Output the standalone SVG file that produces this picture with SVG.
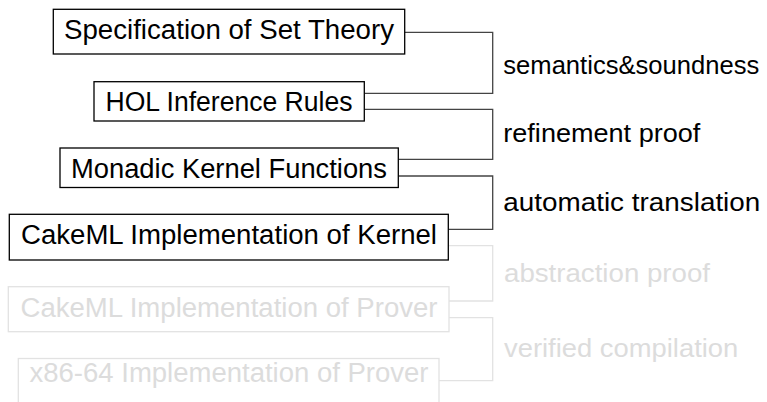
<svg xmlns="http://www.w3.org/2000/svg" width="767" height="402" viewBox="0 0 767 402">
  <style>
    .box { fill: #ffffff; stroke: #000000; stroke-width: 1.3; }
    .box.faded { stroke: #e2e2e2; }
    .lbl { font-family: "Liberation Sans", Arial, sans-serif; font-size: 27px; fill: #000000; }
    .lbl.faded { fill: #dcdcdc; }
    .step { font-size: 25.5px; }
    .wire { fill: none; stroke: #444444; stroke-width: 1.3; }
    .wire.faded { stroke: #e2e2e2; }
  </style>

  <!-- connectors between successive levels -->
  <g id="connectors">
    <path class="wire" d="M404.7,32.3 H492.7 V93.3 H364.3"/>
    <path class="wire" d="M364.3,109.3 H492.7 V159.3 H398.3"/>
    <path class="wire" d="M398.3,176 H492.7 V229.3 H448.3"/>
    <path class="wire faded" d="M448.3,245.7 H492.7 V301 H449"/>
    <path class="wire faded" d="M449,317.7 H492.7 V380.7 H439"/>
  </g>

  <g id="spec-set-theory">
    <rect class="box" x="53.3" y="9.3" width="351.4" height="44.7"/>
    <text class="lbl" x="229" y="39" text-anchor="middle" textLength="330" lengthAdjust="spacingAndGlyphs">Specification of Set Theory</text>
  </g>

  <g id="hol-inference-rules">
    <rect class="box" x="94" y="81.7" width="270.3" height="39.3"/>
    <text class="lbl" x="229" y="110.7" text-anchor="middle" textLength="247" lengthAdjust="spacingAndGlyphs">HOL Inference Rules</text>
  </g>

  <g id="monadic-kernel">
    <rect class="box" x="60" y="148" width="338.3" height="39.5"/>
    <text class="lbl" x="229" y="177.5" text-anchor="middle" textLength="316" lengthAdjust="spacingAndGlyphs">Monadic Kernel Functions</text>
  </g>

  <g id="cakeml-kernel">
    <rect class="box" x="9.3" y="214.3" width="439" height="45.7"/>
    <text class="lbl" x="229" y="244" text-anchor="middle" textLength="416" lengthAdjust="spacingAndGlyphs">CakeML Implementation of Kernel</text>
  </g>

  <g id="cakeml-prover">
    <rect class="box faded" x="8.3" y="286.7" width="440.7" height="45"/>
    <text class="lbl faded" x="229" y="316.5" text-anchor="middle" textLength="417" lengthAdjust="spacingAndGlyphs">CakeML Implementation of Prover</text>
  </g>

  <g id="x86-prover">
    <rect class="box faded" x="18.3" y="358.5" width="420.7" height="45.5"/>
    <text class="lbl faded" x="229" y="381.5" text-anchor="middle" textLength="399" lengthAdjust="spacingAndGlyphs">x86-64 Implementation of Prover</text>
  </g>

  <!-- step annotations -->
  <g id="step-labels">
    <text class="lbl step" x="503.3" y="74.3" textLength="256" lengthAdjust="spacingAndGlyphs">semantics&amp;soundness</text>
    <text class="lbl step" x="503.3" y="141.7" textLength="197" lengthAdjust="spacingAndGlyphs">refinement proof</text>
    <text class="lbl step" x="503.3" y="210.7" textLength="257" lengthAdjust="spacingAndGlyphs">automatic translation</text>
    <text class="lbl step faded" x="504" y="281.7" textLength="206" lengthAdjust="spacingAndGlyphs">abstraction proof</text>
    <text class="lbl step faded" x="504" y="356.7" textLength="234.3" lengthAdjust="spacingAndGlyphs">verified compilation</text>
  </g>
</svg>
